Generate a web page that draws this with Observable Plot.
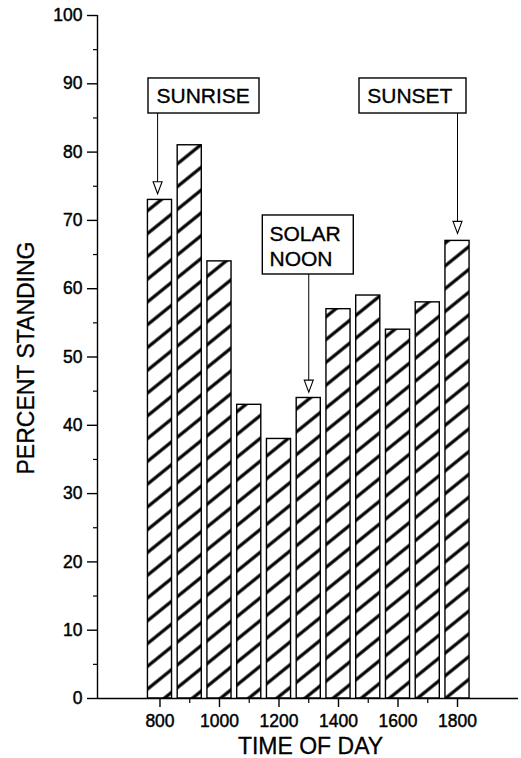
<!DOCTYPE html>
<html>
<head>
<meta charset="utf-8">
<script src="https://cdn.jsdelivr.net/npm/d3@7"></script>
<script src="https://cdn.jsdelivr.net/npm/@observablehq/plot@0.6"></script>
<style>
  html, body { margin: 0; padding: 0; background: #fff; }
  #chart svg { display: block; }
</style>
</head>
<body>
<div id="chart"></div>
<script>
// ---- data ----
const times = [800, 900, 1000, 1100, 1200, 1300, 1400, 1500, 1600, 1700, 1800];
const percentStanding = [73, 81, 64, 43, 38, 44, 57, 59, 54, 58, 67];

const yMajorTicks = [0, 10, 20, 30, 40, 50, 60, 70, 80, 90, 100];
const yMinorTicks = [5, 15, 25, 35, 45, 55, 65, 75, 85, 95];
const xMajorTicks = [800, 1000, 1200, 1400, 1600, 1800];
const xMinorTicks = [900, 1100, 1300, 1500, 1700];

const xLabel = "TIME OF DAY";
const yLabel = "PERCENT STANDING";

// annotations (in data units: time of day, percent)
const annoLabels   = ["SUNRISE", "SOLAR\nNOON", "SUNSET"];
const annoArrowX   = [792, 1300, 1800];
const annoArrowTip = [73.9, 44.85, 68.1];
const annoBoxX1    = [761.4, 1145.6, 1470.6];
const annoBoxX2    = [1134.5, 1451.4, 1830.2];
const annoBoxTop   = [90.78, 70.72, 90.78];
const annoBoxBot   = [85.65, 62.08, 85.65];
const annoTextX    = [788.3, 1168.1, 1496.5];
const annoTextY    = [87.12, 63.3, 87.12];

// ---- tables ----
const bars = times.map((t, i) => ({time: t, pct: percentStanding[i]}));
const anno = annoLabels.map((l, i) => ({
  label: l, ax: annoArrowX[i], tip: annoArrowTip[i],
  bx1: annoBoxX1[i], bx2: annoBoxX2[i], btop: annoBoxTop[i], bbot: annoBoxBot[i],
  tx: annoTextX[i], ty: annoTextY[i]
}));

const xMin = 590, xMax = 2005;
const halfBar = 40.5;
const downTriangle = {
  draw(context) {
    context.moveTo(0, 0);
    context.lineTo(-4.5, -12);
    context.lineTo(4.5, -12);
    context.closePath();
  }
};
const bold = {fill: "black", stroke: "black", strokeWidth: 0.45, paintOrder: "fill"};

const plot = Plot.plot({
  width: 521,
  height: 758,
  marginLeft: 97,
  marginRight: 3,
  marginTop: 15,
  marginBottom: 60,
  style: {fontFamily: "'Liberation Sans', Arial, Helvetica, sans-serif", color: "black", background: "white"},
  x: {type: "linear", domain: [xMin, xMax]},
  y: {domain: [0, 100]},
  marks: [
    Plot.rectY(bars, {x1: d => d.time - halfBar, x2: d => d.time + halfBar, y1: 0, y2: "pct",
      fill: "url(#hatch)", stroke: "black", strokeWidth: 1.4}),
    Plot.ruleY([0], {stroke: "black", strokeWidth: 1.4}),
    Plot.ruleX([xMin], {y1: 0, y2: 100, stroke: "black", strokeWidth: 1.4}),
    Plot.axisY(yMajorTicks, {anchor: "left", tickSize: 10, strokeWidth: 1.4,
      tickFormat: () => "", label: null}),
    Plot.axisY(yMinorTicks, {anchor: "left", tickSize: 4, strokeWidth: 1.2,
      tickFormat: () => "", label: null}),
    Plot.axisX(xMajorTicks, {anchor: "bottom", tickSize: 9, strokeWidth: 1.4,
      tickFormat: () => "", label: null}),
    Plot.axisX(xMinorTicks, {anchor: "bottom", tickSize: 5, strokeWidth: 1.2,
      tickFormat: () => "", label: null}),
    // tick labels
    Plot.text(yMajorTicks, {x: xMin, y: d => d, text: d => String(d), dx: -15,
      textAnchor: "end", lineAnchor: "middle", fontSize: 17.5, ...bold}),
    Plot.text(xMajorTicks, {x: d => d, y: 0, text: d => String(d), dy: 28.7,
      textAnchor: "middle", lineAnchor: "bottom", fontSize: 17.5, ...bold}),
    // axis titles
    Plot.text([xLabel], {frameAnchor: "bottom", dx: 2.5, dy: 55, lineAnchor: "bottom",
      textAnchor: "middle", fontSize: 23, ...bold, strokeWidth: 0.3}),
    Plot.text([yLabel], {frameAnchor: "left", dx: -70.6, dy: 1, rotate: -90, lineAnchor: "middle",
      textAnchor: "middle", fontSize: 23, ...bold, strokeWidth: 0.3}),
    // annotations
    Plot.rect(anno, {x1: "bx1", x2: "bx2", y1: "bbot", y2: "btop", fill: "white",
      stroke: "black", strokeWidth: 1.4}),
    Plot.text(anno, {x: "tx", y: "ty", text: "label", textAnchor: "start", lineAnchor: "bottom",
      fontSize: 21, lineHeight: 1.22, ...bold, strokeWidth: 0.35}),
    Plot.ruleX(anno, {x: "ax", y1: "bbot", y2: "tip", stroke: "black", strokeWidth: 1}),
    Plot.dot(anno, {x: "ax", y: "tip", symbol: downTriangle, r: 5, fill: "white",
      stroke: "black", strokeWidth: 1.1})
  ]
});

// hatch pattern definition
const ns = "http://www.w3.org/2000/svg";
const defs = document.createElementNS(ns, "defs");
const pat = document.createElementNS(ns, "pattern");
pat.setAttribute("id", "hatch");
pat.setAttribute("patternUnits", "userSpaceOnUse");
pat.setAttribute("width", "10");
pat.setAttribute("height", "17.7");
pat.setAttribute("patternTransform", "rotate(-39)");
const bg = document.createElementNS(ns, "rect");
bg.setAttribute("width", "10");
bg.setAttribute("height", "17.7");
bg.setAttribute("fill", "white");
const ln = document.createElementNS(ns, "line");
ln.setAttribute("x1", "-1"); ln.setAttribute("x2", "11");
ln.setAttribute("y1", "8.85"); ln.setAttribute("y2", "8.85");
ln.setAttribute("stroke", "black");
ln.setAttribute("stroke-width", "3.2");
pat.appendChild(bg);
pat.appendChild(ln);
defs.appendChild(pat);
plot.insertBefore(defs, plot.firstChild);

document.getElementById("chart").appendChild(plot);
</script>
</body>
</html>
